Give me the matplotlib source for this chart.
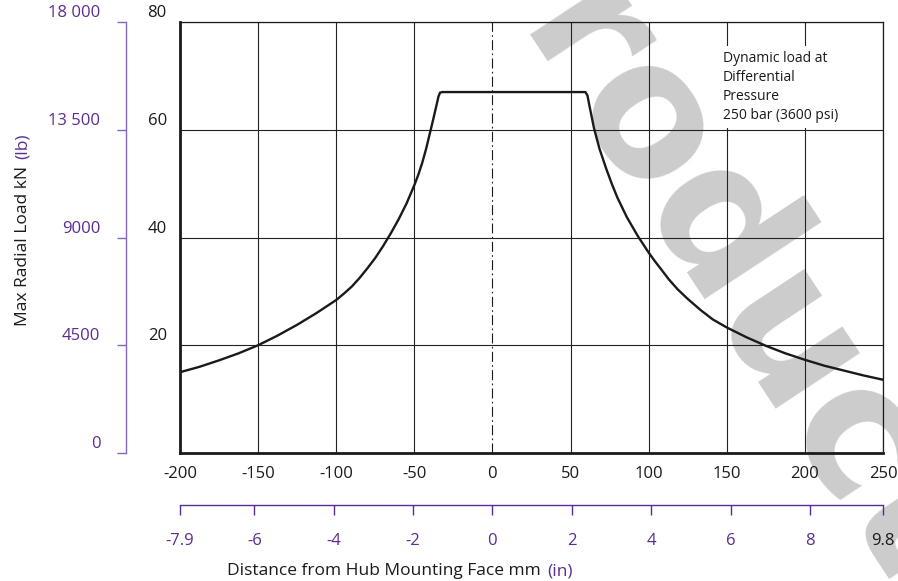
"""
Max radial load vs. distance from hub mounting face.
Dual units: kN / lb on the left, mm / in along the bottom.
"""

import matplotlib

matplotlib.use("Agg")
import matplotlib.pyplot as plt
from matplotlib.transforms import ScaledTranslation

plt.rcParams["font.family"] = ["Open Sans", "DejaVu Sans"]

PURPLE = "#5b2c8f"
PURPLE_LINE = "#8466bb"
INK = "#1a1a1a"

# load curve (distance mm, load kN)
DIST_MM = [-200, -187.5, -175, -162.5, -150, -137.5, -125, -112.5, -100, -95, -90, -85,
           -80, -75, -70, -65, -60, -55, -50, -47.5, -45, -42.5, -40, -38, -36, -34.5,
           -33.5, -32,
           59.5, 60.8, 62, 65, 68.5, 72.8, 76.5, 80, 86, 93, 100, 104, 108, 113, 118.5,
           125, 133.4, 141, 150, 162.5, 175, 187.5, 200, 212.5, 225, 237.5, 250]
LOAD_KN = [15.0, 16.0, 17.2, 18.5, 20.0, 21.8, 23.8, 26.0, 28.4, 29.6, 30.9, 32.5,
           34.3, 36.2, 38.4, 40.8, 43.4, 46.3, 49.7, 51.6, 53.8, 56.4, 59.4, 61.8, 64.3, 66.2,
           66.9, 67.0,
           67.0, 66.4, 64.6, 60.3, 56.5, 52.8, 49.9, 47.4, 43.8, 40.3, 37.2, 35.6, 34.1, 32.2, 30.4,
           28.6, 26.5, 24.8, 23.3, 21.5, 19.9, 18.5, 17.3, 16.2, 15.3, 14.4, 13.6]

MM_TICKS = [-200, -150, -100, -50, 0, 50, 100, 150, 200, 250]
KN_TICKS = [20, 40, 60, 80]
LB_TICKS = [0, 4500, 9000, 13500, 18000]
LB_LABELS = ["0", "4500", "9000", "13 500", "18 000"]
IN_TICKS = [-7.8738, -6, -4, -2, 0, 2, 4, 6, 8, 9.8422]
IN_LABELS = ["-7.9", "-6", "-4", "-2", "0", "2", "4", "6", "8", "9.8"]

NOTE = "Dynamic load at\nDifferential\nPressure\n250 bar (3600 psi)"
LB_PER_KN = 225.0
MM_PER_IN = 25.4


def main():
    fig = plt.figure(figsize=(8.98, 5.81), dpi=100)
    fig.patch.set_facecolor("white")
    ax = fig.add_axes([0.2004, 0.2203, 0.7829, 0.7418])
    ax.set_facecolor("none")

    # watermark behind everything
    fig.text(0.802, 0.559, "Reproduction", rotation=-56.6, rotation_mode="anchor",
             ha="center", va="center", fontsize=132, fontweight="bold",
             family="DejaVu Sans", color="#cccccc", zorder=-1)

    ax.plot(DIST_MM, LOAD_KN, color=INK, lw=1.7, solid_joinstyle="round", zorder=3)
    ax.axvline(0, color=INK, lw=0.8, ls=(0, (9, 3, 1.5, 3)), zorder=2)

    ax.set_xlim(MM_TICKS[0], MM_TICKS[-1])
    ax.set_ylim(0, KN_TICKS[-1])
    ax.set_xticks(MM_TICKS, labels=[str(t) for t in MM_TICKS])
    ax.set_yticks(KN_TICKS, labels=[str(t) for t in KN_TICKS])
    ax.grid(True, color="#222222", lw=0.8)
    # centre line is dash-dot, not a plain grid line
    ax.get_xgridlines()[MM_TICKS.index(0)].set_visible(False)
    ax.tick_params(axis="x", length=0, pad=9, labelsize=12, labelcolor=INK)
    ax.tick_params(axis="y", length=0, pad=9.5, labelsize=12, labelcolor=INK)
    for side in ("left", "bottom"):
        ax.spines[side].set_linewidth(2.0)
        ax.spines[side].set_color(INK)
    for side in ("top", "right"):
        ax.spines[side].set_linewidth(0.9)
        ax.spines[side].set_color(INK)

    up = ScaledTranslation(0, 0.11, fig.dpi_scale_trans)
    for lab in ax.get_yticklabels():
        lab.set_transform(lab.get_transform() + up)

    # lb scale on the left
    sec_y = ax.secondary_yaxis(-0.0768, functions=(lambda k: k * LB_PER_KN,
                                                   lambda lb: lb / LB_PER_KN))
    sec_y.set_ticks(LB_TICKS, labels=LB_LABELS)
    sec_y.set_ticks([LB_TICKS[0], LB_TICKS[-1]], minor=True)
    sec_y.spines["left"].set_color(PURPLE_LINE)
    sec_y.spines["left"].set_linewidth(1.0)
    sec_y.tick_params(which="major", direction="out", length=6.5, width=1.0, pad=12,
                      color=PURPLE_LINE, labelcolor=PURPLE, labelsize=12)
    sec_y.tick_params(which="minor", direction="inout", length=12, width=1.0,
                      color=PURPLE_LINE)
    for lab in sec_y.get_yticklabels():
        lab.set_transform(lab.get_transform() + up)

    # inch scale below
    sec_x = ax.secondary_xaxis(-0.1206, functions=(lambda mm: mm / MM_PER_IN,
                                                   lambda i: i * MM_PER_IN))
    sec_x.set_ticks(IN_TICKS, labels=IN_LABELS)
    sec_x.set_ticks([IN_TICKS[0], IN_TICKS[-1]], minor=True)
    sec_x.spines["bottom"].set_color(PURPLE)
    sec_x.spines["bottom"].set_linewidth(1.0)
    sec_x.tick_params(which="major", direction="out", length=7, width=1.0, pad=13,
                      color=PURPLE, labelcolor=PURPLE, labelsize=12)
    sec_x.tick_params(which="minor", direction="inout", length=20, width=1.0,
                      color=PURPLE)
    sec_x.get_xticklabels()[-1].set_color(INK)

    ax.text(147.5, 74.6, NOTE, fontsize=10, ha="left", va="top", linespacing=1.35,
            color=INK, bbox=dict(fc="white", ec="none", pad=4), zorder=4)

    # axis titles: black unit + purple alternate unit
    fig.text(541 / 898, 1 - 575 / 581, "Distance from Hub Mounting Face mm",
             ha="right", va="baseline", fontsize=12.5, color=INK)
    fig.text(547 / 898, 1 - 575 / 581, "(in)", ha="left", va="baseline",
             fontsize=12.5, color=PURPLE)
    fig.text(27 / 898, 1 - 166 / 581, "Max Radial Load kN", rotation=90,
             rotation_mode="anchor", ha="right", va="baseline", fontsize=12.5, color=INK)
    fig.text(27 / 898, 1 - 159 / 581, "(lb)", rotation=90, rotation_mode="anchor",
             ha="left", va="baseline", fontsize=12.5, color=PURPLE)

    fig.savefig("out.png", dpi=100)
    plt.close(fig)


if __name__ == "__main__":
    main()
